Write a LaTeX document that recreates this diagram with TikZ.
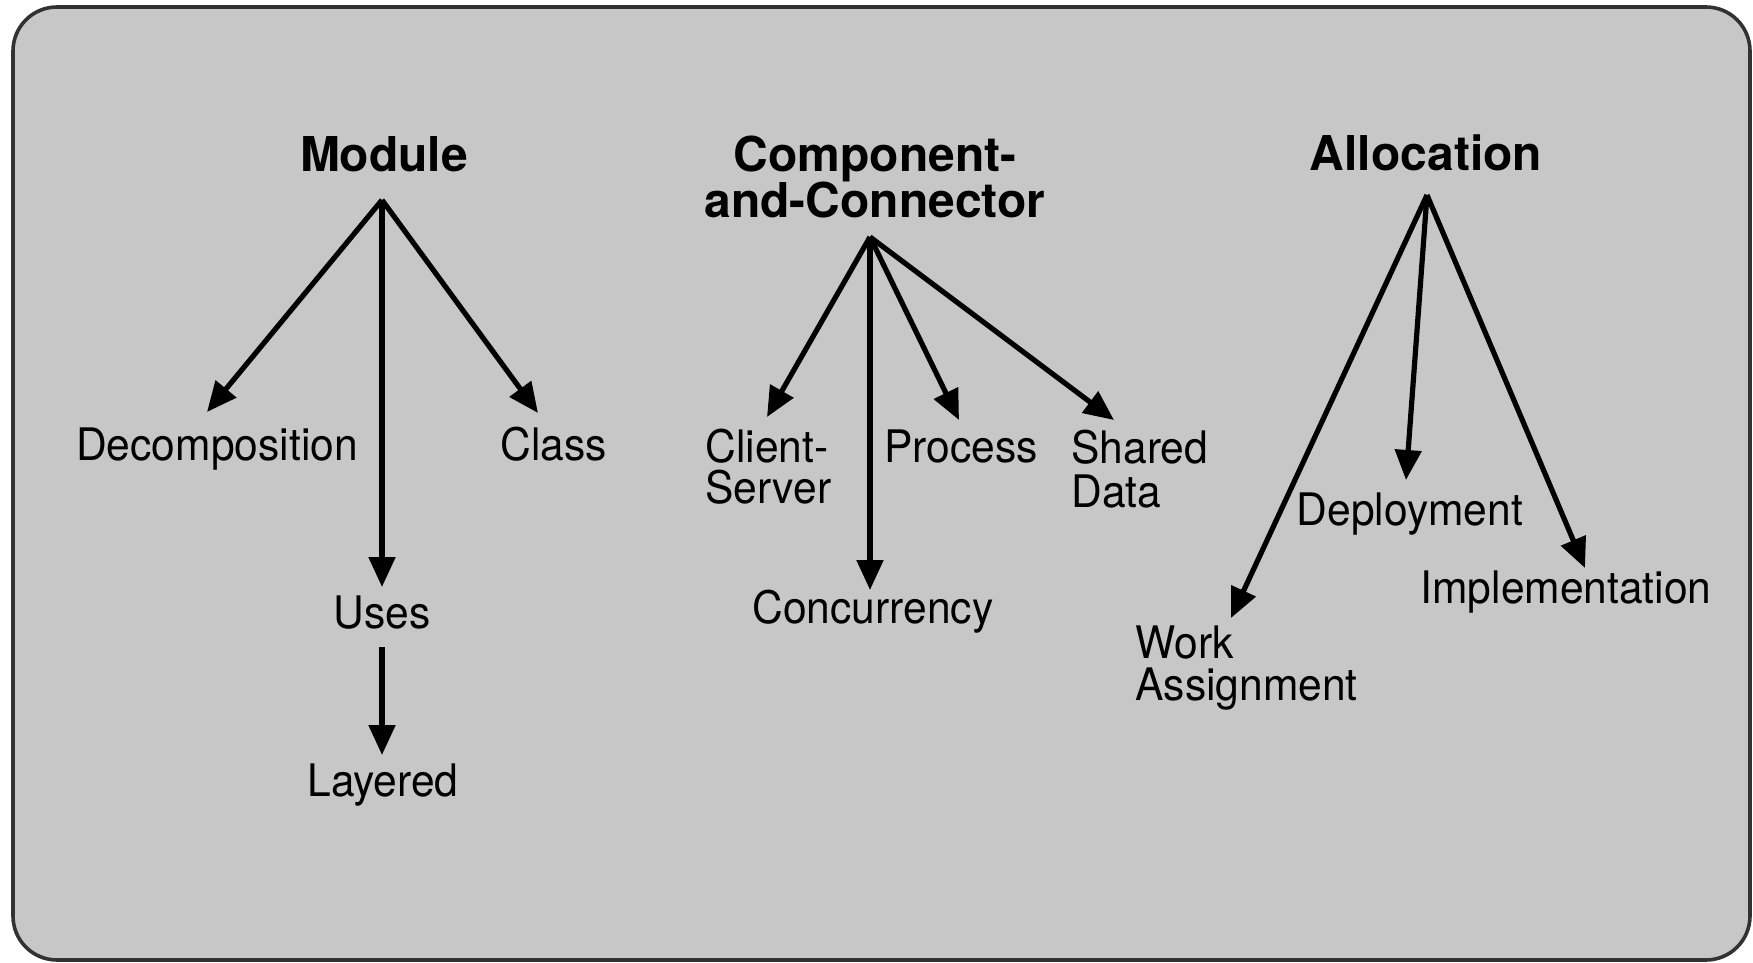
\documentclass[tikz,border=0pt]{standalone}
\usepackage{fontspec}
\setmainfont{TeX Gyre Heros}
\newfontfamily\lblfont[FakeStretch=0.95]{TeX Gyre Heros}
\usetikzlibrary{arrows.meta}
\definecolor{frameg}{RGB}{199,199,199}
\definecolor{framel}{RGB}{50,50,50}
\newcommand{\twoline}[3]{\vtop{\baselineskip=#1\lineskiplimit=-\maxdimen\lineskip=0pt\hbox{#2}\hbox{#3}}}
\newcommand{\twocenter}[3]{\vtop{\baselineskip=#1\lineskiplimit=-\maxdimen\lineskip=0pt\halign{\hfil##\hfil\cr#2\cr#3\cr}}}
\tikzset{
  lbl/.style={font=\lblfont\fontsize{22.4pt}{21pt}\selectfont, inner sep=0pt, anchor=base},
  ttl/.style={font=\bfseries\fontsize{24pt}{23pt}\selectfont, inner sep=0pt, anchor=base},
  arr/.style={line width=2.6pt, -{Triangle[length=15pt,width=13pt]}},
  frame/.style={line width=1.8pt, draw=framel, fill=frameg, rounded corners=22pt}
}
\begin{document}
\begin{tikzpicture}[x=0.5pt,y=-0.5pt]
\useasboundingbox (0,0) rectangle (1753,963);
\draw[frame] (13,7) rectangle (1750,960);

% titles
\node[ttl] (mod) at (384,172) {Module};
\node[ttl] (cc) at (875,172) {\twocenter{23pt}{Component-}{and-Connector}};
\node[ttl] (alloc) at (1426,171) {Allocation};

% module views
\node[lbl] (dec) at (217,460) {Decomposition};
\node[lbl] (cls) at (554,460) {Class};
\node[lbl] (uses) at (382,628) {Uses};
\node[lbl] (lay) at (383,796) {Layered};

% C&C views
\node[lbl, anchor=base west] (cs) at (705,462) {\twoline{20.5pt}{Client-}{Server}};
\node[lbl] (conc) at (873,623) {Concurrency};
\node[lbl] (proc) at (961,462) {Process};
\node[lbl, anchor=base west] (sd) at (1071,463) {\twoline{22pt}{Shared}{Data}};

% allocation views
\node[lbl, anchor=base west] (work) at (1135,658) {\twoline{21pt}{Work}{Assignment}};
\node[lbl] (dep) at (1410,525) {Deployment};
\node[lbl] (impl) at (1566,603) {Implementation};

% connector end points
\coordinate (modO) at (382,200);
\coordinate (decT) at (207,412);
\coordinate (clsT) at (538,413);
\coordinate (usesT) at (382,587);
\coordinate (usesB) at (382,647);
\coordinate (layT) at (382,755);
\coordinate (ccO) at (870,237);
\coordinate (csT) at (767,417);
\coordinate (concT) at (870,590);
\coordinate (procT) at (959,420);
\coordinate (sdT) at (1114,420);
\coordinate (alO) at (1427,195);
\coordinate (workT) at (1231,618);
\coordinate (depT) at (1406,480);
\coordinate (implT) at (1585,568);

\draw[arr] (modO) -- (decT);
\draw[arr] (modO) -- (clsT);
\draw[arr] (modO) -- (usesT);
\draw[arr] (usesB) -- (layT);
\draw[arr] (ccO) -- (csT);
\draw[arr] (ccO) -- (concT);
\draw[arr] (ccO) -- (procT);
\draw[arr] (ccO) -- (sdT);
\draw[arr] (alO) -- (workT);
\draw[arr] (alO) -- (depT);
\draw[arr] (alO) -- (implT);
\end{tikzpicture}
\end{document}
